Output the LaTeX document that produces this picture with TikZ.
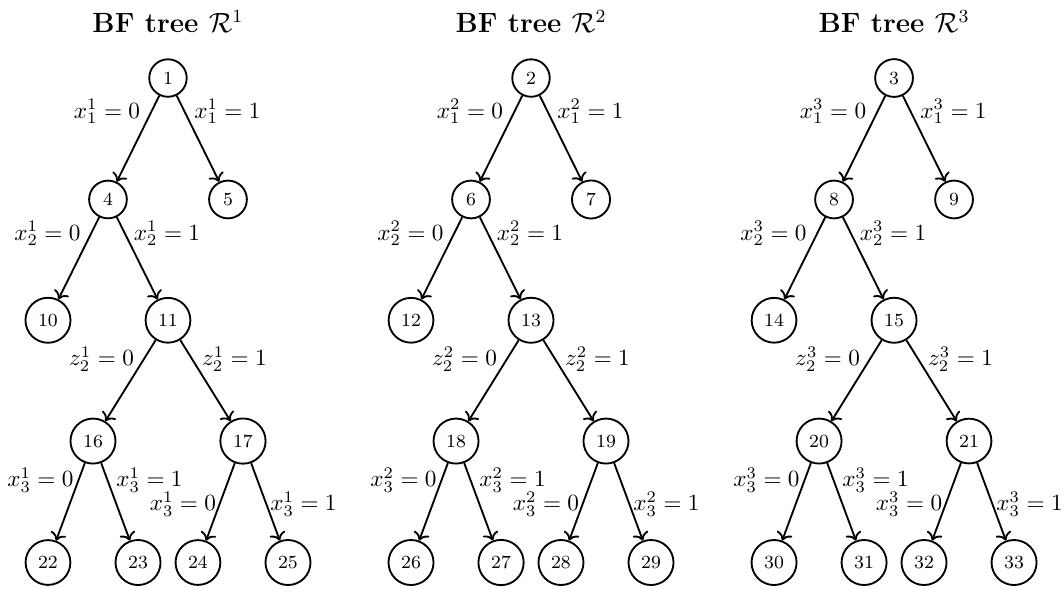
\documentclass[tikz,border=0pt]{standalone}
\usepackage{amsmath}
\usetikzlibrary{arrows.meta,positioning}

\begin{document}
\begin{tikzpicture}[
  vert/.style={draw,circle,thick,font=\footnotesize},
  arr/.style={->,thick},
  lbl/.style={inner sep=0pt},
  ttl/.style={font=\large\bfseries}
]
  % Frame of the page
  \useasboundingbox (0,0) rectangle (16.12,-8.91);
  % One BF tree per scenario, node numbers run on from tree to tree
  \foreach \t in {1,2,3}{
    \pgfmathsetmacro\tx{2.545+(\t-1)*5.5}
    \pgfmathtruncatemacro\na{2*\t+2}
    \pgfmathtruncatemacro\nb{2*\t+3}
    \pgfmathtruncatemacro\nc{2*\t+8}
    \pgfmathtruncatemacro\nd{2*\t+9}
    \pgfmathtruncatemacro\ne{2*\t+14}
    \pgfmathtruncatemacro\nf{2*\t+15}
    \pgfmathtruncatemacro\ng{4*\t+18}
    \pgfmathtruncatemacro\nh{4*\t+19}
    \pgfmathtruncatemacro\ni{4*\t+20}
    \pgfmathtruncatemacro\nj{4*\t+21}
    \begin{scope}[shift={(\tx,-1.182)}]
      % Title
      \node[ttl] (title\t) at (0,0.85) {BF tree $\mathcal{R}^{\t}$};
      % Vertices
      \node[vert] (v\t)  at (0,0)           {\t};
      \node[vert] (v\na) at (-0.909,-1.84)  {\na};
      \node[vert] (v\nb) at (0.909,-1.84)   {\nb};
      \node[vert] (v\nc) at (-1.818,-3.67)  {\nc};
      \node[vert] (v\nd) at (0,-3.67)       {\nd};
      \node[vert] (v\ne) at (-1.136,-5.50)  {\ne};
      \node[vert] (v\nf) at (1.136,-5.50)   {\nf};
      \node[vert] (v\ng) at (-1.818,-7.34)  {\ng};
      \node[vert] (v\nh) at (-0.454,-7.34)  {\nh};
      \node[vert] (v\ni) at (0.454,-7.34)   {\ni};
      \node[vert] (v\nj) at (1.818,-7.34)   {\nj};
      % Branches
      \draw[arr] (v\t)  -- (v\na);
      \draw[arr] (v\t)  -- (v\nb);
      \draw[arr] (v\na) -- (v\nc);
      \draw[arr] (v\na) -- (v\nd);
      \draw[arr] (v\nd) -- (v\ne);
      \draw[arr] (v\nd) -- (v\nf);
      \draw[arr] (v\ne) -- (v\ng);
      \draw[arr] (v\ne) -- (v\nh);
      \draw[arr] (v\nf) -- (v\ni);
      \draw[arr] (v\nf) -- (v\nj);
      % Branch labels
      \node[lbl] (a\t) at (-0.924,-0.508) {$x^{\t}_1=0$};
      \node[lbl] (b\t) at (0.901,-0.508)  {$x^{\t}_1=1$};
      \node[lbl] (c\t) at (-1.826,-2.356) {$x^{\t}_2=0$};
      \node[lbl] (d\t) at (-0.015,-2.356) {$x^{\t}_2=1$};
      \node[lbl] (e\t) at (-1.007,-4.257) {$z^{\t}_2=0$};
      \node[lbl] (f\t) at (1.007,-4.257)  {$z^{\t}_2=1$};
      \node[lbl] (g\t) at (-1.932,-6.09)  {$x^{\t}_3=0$};
      \node[lbl] (h\t) at (-0.280,-6.09)  {$x^{\t}_3=1$};
      \node[lbl] (i\t) at (0.227,-6.454)  {$x^{\t}_3=0$};
      \node[lbl] (j\t) at (2.053,-6.454)  {$x^{\t}_3=1$};
    \end{scope}
  }
\end{tikzpicture}
\end{document}
